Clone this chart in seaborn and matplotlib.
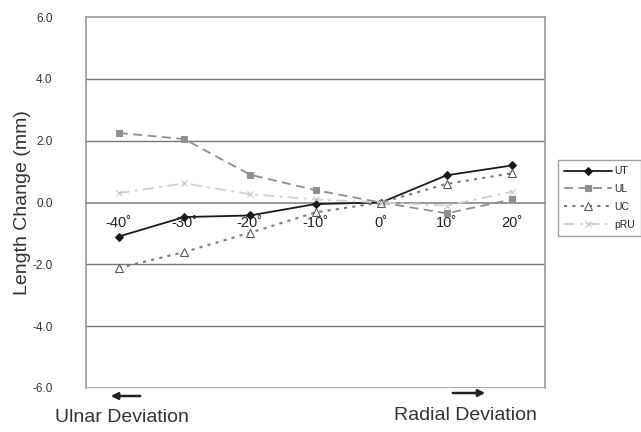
import matplotlib
matplotlib.use("Agg")
import matplotlib.pyplot as plt
import seaborn as sns
import pandas as pd

angles = [-40, -30, -20, -10, 0, 10, 20]
tick_labels = ["-40˚", "-30˚", "-20˚", "-10˚", "0˚", "10˚", "20˚"]
ut = [-1.1, -0.47, -0.42, -0.05, 0.0, 0.88, 1.2]
ul = [2.25, 2.05, 0.9, 0.4, 0.0, -0.35, 0.1]
uc = [-2.12, -1.6, -0.98, -0.32, 0.0, 0.6, 0.95]
pru = [0.3, 0.62, 0.27, 0.1, 0.0, -0.1, 0.35]
y_ticks = [-6.0, -4.0, -2.0, 0.0, 2.0, 4.0, 6.0]

sns.set_theme(style="white")
plt.rcParams['font.family'] = ['Liberation Sans', 'DejaVu Sans']

fig = plt.figure(figsize=(6.41, 4.32), dpi=100)
ax = fig.add_axes([86/641, 44/432, (545-86)/641, (388-17)/432])

series = [
    ("UT", ut, dict(color="#1a1a1a", linestyle="-", marker="D", markersize=4.5,
                    markerfacecolor="#1a1a1a", markeredgecolor="#1a1a1a", linewidth=1.3)),
    ("UL", ul, dict(color="#8f8f8f", linestyle=(0, (5, 3)), marker="s", markersize=5,
                    markerfacecolor="#8f8f8f", markeredgecolor="#8f8f8f", linewidth=1.3)),
    ("UC", uc, dict(color="#7a7a7a", linestyle=(0, (1.5, 2.5)), marker="^", markersize=5.5,
                    markerfacecolor="white", markeredgecolor="#555555", linewidth=1.5)),
    ("pRU", pru, dict(color="#cfcfcf", linestyle=(0, (6, 3, 1.5, 3)), marker="x", markersize=5,
                      markeredgecolor="#c4c4c4", linewidth=1.3)),
]
for name, vals, kw in series:
    df = pd.DataFrame({"angle": angles, "value": vals})
    sns.lineplot(data=df, x="angle", y="value", ax=ax, label=name, sort=False, zorder=3, **kw)

ax.set_xlim(-45, 25)
ax.set_ylim(-6, 6)
ax.set_yticks(y_ticks)
ax.set_yticklabels([f"{v:.1f}" for v in y_ticks], fontsize=8.5, color="#333333")
for v in [-4, -2, 2, 4]:
    ax.axhline(v, color="#777777", linewidth=1.0, zorder=1)
ax.axhline(-6, color="#999999", linewidth=1.2, zorder=1)

ax.spines['bottom'].set_position(('data', 0))
ax.spines['bottom'].set_color("#888888")
ax.spines['bottom'].set_linewidth(1.2)
for s in ['left', 'right', 'top']:
    ax.spines[s].set_color("#999999")
    ax.spines[s].set_linewidth(1.2)

ax.set_xticks(angles)
ax.set_xticklabels(tick_labels, fontsize=10.5, color="#222222")
ax.set_xticks([a + 5 for a in angles[:-1]], minor=True)
ax.tick_params(axis='x', which='major', length=0, pad=10)
ax.tick_params(axis='x', which='minor', direction='in', length=3, width=1, color="#777777")
ax.tick_params(axis='y', length=0, pad=24)
ax.set_xlabel("")
ax.set_ylabel("Length Change (mm)", fontsize=14, color="#333333", labelpad=1)

leg = ax.legend(loc="upper left", bbox_to_anchor=(558/641, (432-160)/432), bbox_transform=fig.transFigure,
                fontsize=7.5, frameon=True, fancybox=False, borderpad=0.6, handlelength=4.6,
                labelspacing=0.75, handletextpad=0.2, borderaxespad=0)
leg.get_frame().set_edgecolor("#888888")
leg.get_frame().set_linewidth(1.0)

ax.annotate("", xy=(108/641, (432-396)/432), xytext=(143/641, (432-396)/432), xycoords='figure fraction',
            arrowprops=dict(arrowstyle="-|>", color="#222222", lw=1.8, mutation_scale=10))
ax.annotate("", xy=(488/641, (432-393)/432), xytext=(450/641, (432-393)/432), xycoords='figure fraction',
            arrowprops=dict(arrowstyle="-|>", color="#222222", lw=1.8, mutation_scale=10))
fig.text(122/641, (432-417)/432, "Ulnar Deviation", ha="center", va="center", fontsize=14, color="#333333")
fig.text(465/641, (432-415)/432, "Radial Deviation", ha="center", va="center", fontsize=14, color="#333333")

fig.savefig("out.png", dpi=100)
